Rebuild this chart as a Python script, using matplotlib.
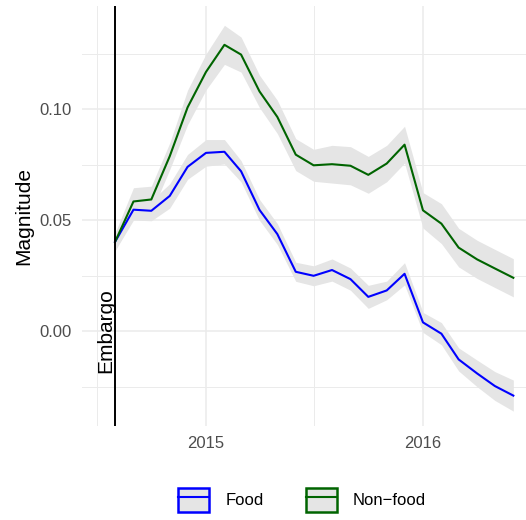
import datetime as dt

import matplotlib
matplotlib.use("Agg")
import matplotlib.dates as mdates
import matplotlib.pyplot as plt
import numpy as np
import pandas as pd
from matplotlib.legend_handler import HandlerTuple
from matplotlib.lines import Line2D
from matplotlib.patches import Patch

plt.rcParams['font.family'] = ['Liberation Sans', 'DejaVu Sans']

# monthly estimates, Aug 2014 .. Jun 2016
months = pd.date_range("2014-08-01", "2016-06-01", freq="MS")

food = [0.0402, 0.0547, 0.0542, 0.0609, 0.0740, 0.0803, 0.0808, 0.0720,
        0.0546, 0.0437, 0.0267, 0.0249, 0.0275, 0.0234, 0.0154, 0.0183,
        0.0258, 0.0039, -0.0012, -0.0128, -0.0191, -0.0248, -0.0291]
food_se = [0.004, 0.0047, 0.0045, 0.0055, 0.0056, 0.006, 0.0055, 0.0048,
           0.0047, 0.0047, 0.0043, 0.0045, 0.005, 0.005, 0.0052, 0.0042,
           0.005, 0.0045, 0.005, 0.0052, 0.006, 0.0065, 0.007]

nonfood = [0.0402, 0.0584, 0.0593, 0.0788, 0.1008, 0.1168, 0.1290, 0.1246,
           0.1080, 0.0965, 0.0795, 0.0747, 0.0752, 0.0745, 0.0704, 0.0755,
           0.0840, 0.0544, 0.0484, 0.0376, 0.0323, 0.0282, 0.0240]
nonfood_se = [0.004, 0.0062, 0.006, 0.006, 0.0078, 0.0081, 0.0088, 0.0079,
              0.0073, 0.0075, 0.0072, 0.0072, 0.0085, 0.0086, 0.0083, 0.0082,
              0.0083, 0.008, 0.009, 0.0087, 0.0086, 0.0086, 0.0086]

series_names = ["Food", "Non\u2212food"]
series_colors = ["#0000FF", "#006400"]
embargo_date = dt.datetime(2014, 8, 1)

ribbon_col = "#E5E5E5"
grid_col = "#EBEBEB"
text_col = "#4D4D4D"

fig = plt.figure(figsize=(5.26, 5.20), dpi=100)
ax = fig.add_axes([82/526, 1 - 426/520, 1 - 82/526, 420/520])

for vals, se in [(food, food_se), (nonfood, nonfood_se)]:
    v = np.array(vals)
    s = np.array(se)
    ax.fill_between(months, v - s, v + s, color=ribbon_col, lw=0, zorder=2)
for vals, col in [(food, series_colors[0]), (nonfood, series_colors[1])]:
    ax.plot(months, vals, color=col, lw=1.5, zorder=3)

ax.axvline(embargo_date, color="black", lw=1.4, zorder=4)
ax.text(embargo_date, 0.0, "Embargo", rotation=90, ha="right", va="center",
        fontsize=15, color="black", zorder=5)

ref = mdates.date2num(dt.datetime(2015, 1, 1))
ax.set_xlim(ref - 208.6, ref + 538.3)
ax.set_ylim(-0.0428, 0.1465)

ax.xaxis.set_major_locator(mdates.YearLocator())
ax.xaxis.set_major_formatter(mdates.DateFormatter("%Y"))
ax.xaxis.set_minor_locator(mdates.MonthLocator(bymonth=7))
ax.set_yticks([0.0, 0.05, 0.10])
ax.set_yticklabels(["0.00", "0.05", "0.10"])
ax.set_yticks([-0.025, 0.025, 0.075, 0.125], minor=True)

ax.grid(True, which="major", color=grid_col, lw=1.1, zorder=0)
ax.grid(True, which="minor", color=grid_col, lw=0.7, zorder=0)
ax.set_axisbelow(True)
for sp in ax.spines.values():
    sp.set_visible(False)
ax.tick_params(which="both", length=0, labelsize=12, labelcolor=text_col, pad=7.2)
ax.set_ylabel("Magnitude", fontsize=15, labelpad=5)

handles = []
for col in series_colors:
    handles.append((Patch(facecolor=ribbon_col, edgecolor=col, lw=1.8),
                    Line2D([], [], color=col, lw=1.5)))
fig.legend(handles, series_names,
           handler_map={tuple: HandlerTuple(ndivide=1, pad=0)},
           loc="center", bbox_to_anchor=(302/526, 1 - 500/520), ncol=2, frameon=False,
           fontsize=12, handlelength=1.86, handleheight=1.86, handletextpad=0.94,
           columnspacing=2.54, borderpad=0)

fig.savefig("out.png", dpi=100)
